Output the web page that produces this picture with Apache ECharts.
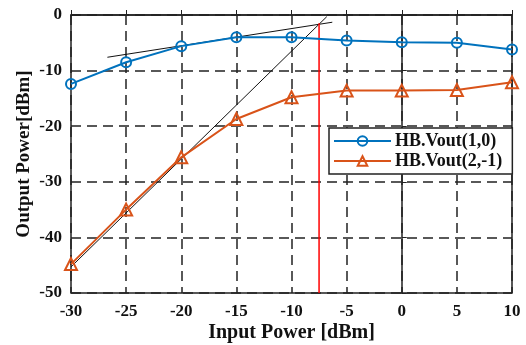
<!DOCTYPE html>
<html><head><meta charset="utf-8">
<script src="https://cdn.jsdelivr.net/npm/echarts@6/dist/echarts.min.js"></script>
<style>html,body{margin:0;padding:0;background:#fff}#c{width:526px;height:345px}</style>
</head><body><div id="c"></div>
<script>
var inputPower = [-30, -25, -20, -15, -10, -5, 0, 5, 10];
var vout10 = [-12.4, -8.5, -5.6, -4.0, -4.0, -4.6, -4.9, -5.0, -6.2];
var vout21 = [-44.8, -35.0, -25.6, -18.7, -14.8, -13.6, -13.6, -13.5, -12.1];
var fitLine1 = [[-26.7, -7.6], [-6.3, -1.3]];
var fitLine2 = [[-30, -45.3], [-6.8, -0.3]];
var redLine = [[-7.5, -1.5], [-7.5, -50]];
var xTicks = {min: -30, max: 10, interval: 5};
var yTicks = {min: -50, max: 0, interval: 10};

var font = '"Liberation Serif", "Times New Roman", serif';
function pairs(xs, ys) { return xs.map(function (x, i) { return [x, ys[i]]; }); }
var chart = echarts.init(document.getElementById('c'));
chart.setOption({
  animation: false,
  backgroundColor: '#fff',
  grid: {left: 71, right: 14, top: 15, bottom: 52, containLabel: false, outerBoundsMode: 'none',
    show: true, borderColor: '#222', borderWidth: 1.5, backgroundColor: 'transparent'},
  legend: {
    orient: 'vertical', left: 329, top: 128, itemWidth: 57, itemHeight: 12, itemGap: 2,
    padding: [4, 10, 4, 4], backgroundColor: '#fff', borderColor: '#222', borderWidth: 1.5, borderRadius: 0,
    textStyle: {fontFamily: font, fontWeight: 'bold', fontSize: 18, lineHeight: 18, color: '#111', padding: [0, 0, 0, -1]},
    data: ['HB.Vout(1,0)', 'HB.Vout(2,-1)']
  },
  xAxis: {
    type: 'value', min: xTicks.min, max: xTicks.max, interval: xTicks.interval,
    name: 'Input Power [dBm]', nameLocation: 'middle', nameGap: 30, nameMoveOverlap: false,
    nameTextStyle: {fontFamily: font, fontWeight: 'bold', fontSize: 20, color: '#111'},
    axisLine: {show: true, lineStyle: {color: '#222', width: 1.5}},
    axisTick: {show: true, inside: true, length: 5, lineStyle: {color: '#222'}},
    axisLabel: {fontFamily: font, fontWeight: 'bold', fontSize: 17, color: '#111', margin: 10},
    splitLine: {show: true, lineStyle: {color: '#222', type: [10, 6], width: 1.5}}
  },
  yAxis: {
    type: 'value', min: yTicks.min, max: yTicks.max, interval: yTicks.interval,
    name: 'Output Power[dBm]', nameLocation: 'middle', nameGap: 37, nameMoveOverlap: false,
    nameTextStyle: {fontFamily: font, fontWeight: 'bold', fontSize: 19, color: '#111'},
    axisLine: {show: true, lineStyle: {color: '#222', width: 1.5}},
    axisTick: {show: true, inside: true, length: 5, lineStyle: {color: '#222'}},
    axisLabel: {fontFamily: font, fontWeight: 'bold', fontSize: 17, color: '#111', margin: 9},
    splitLine: {show: true, lineStyle: {color: '#222', type: [10, 6], width: 1.5}}
  },
  series: [
    {type: 'line', data: fitLine1, symbol: 'none', silent: true, lineStyle: {color: '#111', width: 1}, z: 3},
    {type: 'line', data: fitLine2, symbol: 'none', silent: true, lineStyle: {color: '#111', width: 1}, z: 3},
    {type: 'line', data: redLine, symbol: 'none', silent: true, lineStyle: {color: '#ff0000', width: 1.5}, z: 4},
    {name: 'HB.Vout(1,0)', type: 'line', data: pairs(inputPower, vout10), symbol: 'circle', symbolSize: 10,
      lineStyle: {color: '#0072BD', width: 2},
      itemStyle: {color: '#0072BD', borderColor: '#0072BD', borderWidth: 2},
      emphasis: {disabled: true}, z: 5},
    {name: 'HB.Vout(2,-1)', type: 'line', data: pairs(inputPower, vout21), symbol: 'triangle', symbolSize: 12,
      lineStyle: {color: '#D95319', width: 2},
      itemStyle: {color: '#D95319', borderColor: '#D95319', borderWidth: 2},
      emphasis: {disabled: true}, z: 5}
  ]
});
chart.setOption({series: [{}, {}, {},
  {itemStyle: {color: 'rgba(255,255,255,0)'}},
  {itemStyle: {color: 'rgba(255,255,255,0)'}}]});
</script></body></html>
